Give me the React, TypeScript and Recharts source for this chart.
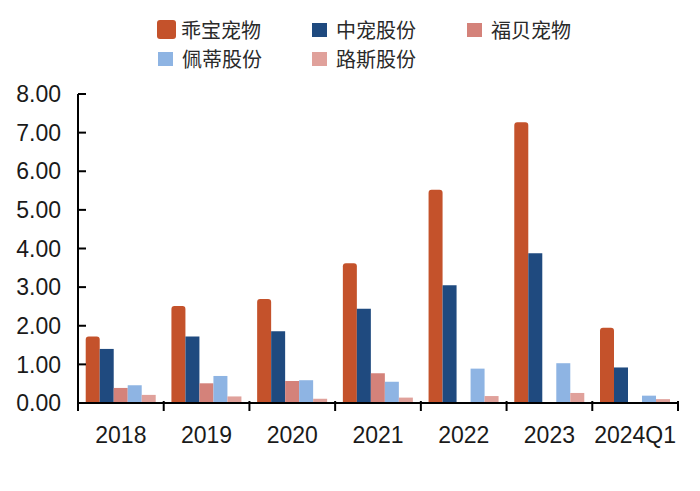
import React from "react";
import { BarChart, Bar, XAxis, YAxis } from "recharts";

const categories = ["2018", "2019", "2020", "2021", "2022", "2023", "2024Q1"];
const guaibao = [1.72, 2.51, 2.69, 3.62, 5.52, 7.27, 1.95];
const zhongchong = [1.4, 1.72, 1.86, 2.44, 3.05, 3.88, 0.92];
const fubei = [0.39, 0.51, 0.57, 0.77, null, null, null];
const peidi = [0.46, 0.7, 0.59, 0.55, 0.89, 1.03, 0.19];
const lusi = [0.21, 0.17, 0.11, 0.14, 0.18, 0.26, 0.1];
const yTicks = [0, 1, 2, 3, 4, 5, 6, 7, 8];

const series = [
  { key: "guaibao", name: "乖宝宠物", color: "#C4522B", values: guaibao },
  { key: "zhongchong", name: "中宠股份", color: "#1F4A7F", values: zhongchong },
  { key: "fubei", name: "福贝宠物", color: "#D4827A", values: fubei },
  { key: "peidi", name: "佩蒂股份", color: "#8EB4E3", values: peidi },
  { key: "lusi", name: "路斯股份", color: "#E0A19B", values: lusi },
];

const data = categories.map((c, i) => {
  const row: any = { category: c };
  series.forEach((s) => {
    row[s.key] = s.values[i];
  });
  return row;
});

const legendPos = [
  { left: 157, top: 20, w: 19, h: 19, r: 3 },
  { left: 312, top: 23, w: 15, h: 14, r: 0 },
  { left: 467, top: 23, w: 15, h: 14, r: 0 },
  { left: 158, top: 52, w: 15, h: 14, r: 0 },
  { left: 312, top: 52, w: 15, h: 14, r: 0 },
];

const XTick = (props: any) => {
  const { x, y, payload, index } = props;
  const off = payload.offset || 0;
  const last = index === categories.length - 1;
  return (
    <g>
      <line x1={x - off} x2={x - off} y1={y} y2={y - 10} stroke="#000" strokeWidth={2} />
      {last && <line x1={x + off} x2={x + off} y1={y} y2={y - 10} stroke="#000" strokeWidth={2} />}
      <text
        x={x}
        y={y + 32}
        textAnchor="middle"
        fontSize={23}
        fontFamily="Liberation Sans, Arial, sans-serif"
        fill="#1a1a1a"
      >
        {payload.value}
      </text>
    </g>
  );
};

export default function App() {
  return (
    <div style={{ position: "absolute", left: 0, top: 0, width: 700, height: 491, background: "#fff" }}>
      {series.map((s, i) => {
        const p = legendPos[i];
        return (
          <div key={s.key}>
            <div
              style={{
                position: "absolute",
                left: p.left,
                top: p.top,
                width: p.w,
                height: p.h,
                background: s.color,
                borderRadius: p.r,
              }}
            />
            <div
              style={{
                position: "absolute",
                left: p.left + 24,
                top: p.top + p.h / 2 - 11,
                fontSize: 20,
                lineHeight: "22px",
                height: 22,
                fontFamily: "Noto Sans CJK SC, sans-serif",
                color: "#2a2a2a",
                whiteSpace: "nowrap",
              }}
            >
              {s.name}
            </div>
          </div>
        );
      })}
      <div style={{ position: "absolute", left: 0, top: 0 }}>
        <BarChart
          width={700}
          height={491}
          data={data}
          margin={{ top: 94, right: 22, bottom: 38, left: 0 }}
          barCategoryGap="9%"
          barGap={0}
        >
          <XAxis
            dataKey="category"
            tick={<XTick />}
            tickLine={false}
            axisLine={{ stroke: "#000", strokeWidth: 2 }}
            height={50}
            interval={0}
          />
          <YAxis
            domain={[0, 8]}
            ticks={yTicks}
            width={78}
            tickSize={-8}
            tickMargin={25}
            tickFormatter={(v: number) => v.toFixed(2)}
            tick={{ fontSize: 23, fill: "#1a1a1a", fontFamily: "Liberation Sans, Arial, sans-serif" }}
            tickLine={{ stroke: "#000", strokeWidth: 2 }}
            axisLine={{ stroke: "#000", strokeWidth: 2 }}
          />
          {series.map((s, i) => (
            <Bar
              key={s.key}
              dataKey={s.key}
              name={s.name}
              fill={s.color}
              radius={i === 0 ? [3, 3, 0, 0] : 0}
              isAnimationActive={false}
            />
          ))}
        </BarChart>
      </div>
    </div>
  );
}
